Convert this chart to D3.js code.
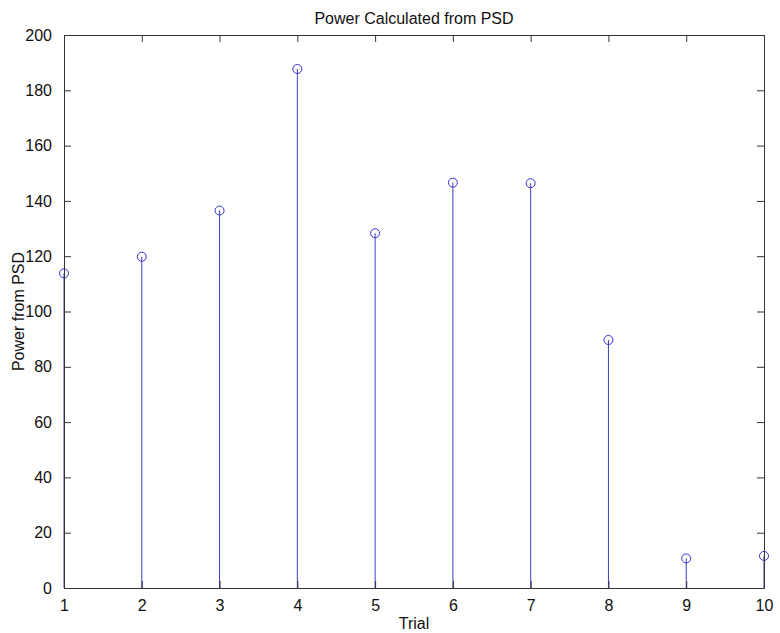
<!DOCTYPE html>
<html>
<head>
<meta charset="utf-8">
<script src="https://cdn.jsdelivr.net/npm/d3@7"></script>
<style>
  html, body { margin: 0; padding: 0; background: #fff; }
  svg { display: block; }
  text { font-family: Arial, "Liberation Sans", sans-serif; fill: #111; }
</style>
</head>
<body>
<svg id="chart" width="780" height="633"></svg>
<script>
// Power from PSD for each trial
const trials = [1, 2, 3, 4, 5, 6, 7, 8, 9, 10];
const power = [113.8, 119.8, 136.5, 187.7, 128.3, 146.6, 146.4, 89.7, 10.7, 11.6];
const yTicks = [0, 20, 40, 60, 80, 100, 120, 140, 160, 180, 200];
const xTicks = [1, 2, 3, 4, 5, 6, 7, 8, 9, 10];

const W = 780, H = 633;
const margin = { top: 35, right: 16, bottom: 45, left: 64 };
const iw = W - margin.left - margin.right;
const ih = H - margin.top - margin.bottom;

const svg = d3.select("#chart");
const g = svg.append("g").attr("transform", `translate(${margin.left},${margin.top})`);

const x = d3.scaleLinear().domain([1, 10]).range([0, iw]);
const y = d3.scaleLinear().domain([0, 200]).range([ih, 0]);

const axisColor = "#333";
const tickLen = 7;

// stems run from zero up to each data point
g.selectAll("line.stem")
  .data(trials)
  .join("line")
  .attr("class", "stem")
  .attr("x1", (d) => x(d))
  .attr("x2", (d) => x(d))
  .attr("y1", y(0))
  .attr("y2", (d, i) => y(power[i]))
  .attr("stroke", "#3f3fc4")
  .attr("stroke-width", 1);

// open circle markers
g.selectAll("circle.mark")
  .data(trials)
  .join("circle")
  .attr("class", "mark")
  .attr("cx", (d) => x(d))
  .attr("cy", (d, i) => y(power[i]))
  .attr("r", 4.5)
  .attr("fill", "none")
  .attr("stroke", "#3333cc")
  .attr("stroke-width", 1);

// axes: bottom and left with labels, top and right mirrored without labels
const styleAxis = (sel) => {
  sel.selectAll("path.domain").attr("stroke", axisColor);
  sel.selectAll(".tick line").attr("stroke", axisColor);
  sel.selectAll(".tick text").style("font-size", "16px").attr("fill", "#111");
};

g.append("g")
  .attr("transform", `translate(0,${ih})`)
  .call(d3.axisBottom(x).tickValues(xTicks).tickFormat(d3.format("d"))
        .tickSizeInner(-tickLen).tickSizeOuter(0).tickPadding(12))
  .call(styleAxis)
  .call((s) => s.selectAll(".tick text").attr("dy", "0.71em"));

g.append("g")
  .call(d3.axisTop(x).tickValues(xTicks).tickFormat("")
        .tickSizeInner(-tickLen).tickSizeOuter(0))
  .call(styleAxis);

g.append("g")
  .call(d3.axisLeft(y).tickValues(yTicks).tickFormat(d3.format("d"))
        .tickSizeInner(-tickLen).tickSizeOuter(0).tickPadding(12))
  .call(styleAxis);

g.append("g")
  .attr("transform", `translate(${iw},0)`)
  .call(d3.axisRight(y).tickValues(yTicks).tickFormat("")
        .tickSizeInner(-tickLen).tickSizeOuter(0))
  .call(styleAxis);

// title and axis labels
svg.append("text")
  .attr("x", margin.left + iw / 2)
  .attr("y", 24)
  .attr("text-anchor", "middle")
  .style("font-size", "16px")
  .text("Power Calculated from PSD");

svg.append("text")
  .attr("x", margin.left + iw / 2)
  .attr("y", 629)
  .attr("text-anchor", "middle")
  .style("font-size", "16px")
  .text("Trial");

svg.append("text")
  .attr("transform", `translate(24,${margin.top + ih / 2}) rotate(-90)`)
  .attr("text-anchor", "middle")
  .style("font-size", "16px")
  .text("Power from PSD");
</script>
</body>
</html>
